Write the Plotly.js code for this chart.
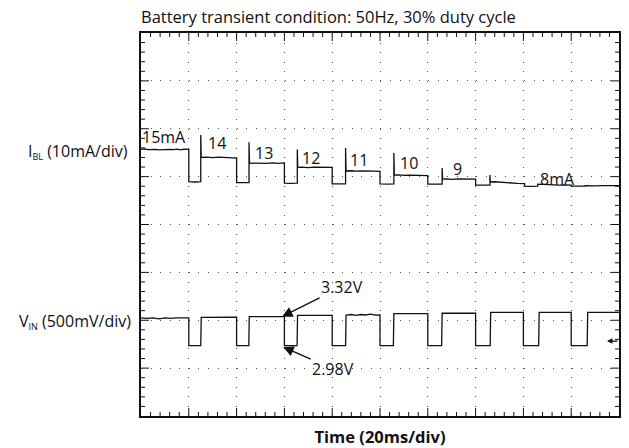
<!DOCTYPE html>
<html>
<head>
<meta charset="utf-8">
<script src="https://cdn.plot.ly/plotly-3.0.1.min.js"></script>
<style>html,body{margin:0;padding:0;background:#fff;}#chart{width:629px;height:448px;}</style>
</head>
<body>
<div id="chart"></div>
<script>
// ---- Data read from the scope capture ----
// Time in ms (20 ms/div, 10 divisions)
// Backlight current I_BL (mA), 10 mA/div
var tCurrent = [0, 1.5, 3, 4.5, 6, 7.5, 9, 10.5, 12, 13.5, 15, 16.5, 18, 20,
  20, 22.5, 25,
  25, 25.2, 27.5, 30, 32.5, 35, 37.5, 40,
  40, 42.5, 45.2,
  45.2, 45.4, 47.5, 50, 52.5, 55, 57.5, 60,
  60, 62.5, 65.4,
  65.4, 65.6, 67.5, 70, 72.5, 75, 77.5, 80,
  80, 82.5, 85.6,
  85.6, 85.8, 88, 90, 92.5, 95, 97.5, 100,
  100, 103, 105.8,
  105.8, 106, 108, 110, 112.5, 115, 117.5, 120,
  120, 123, 126,
  126, 126.2, 128, 130, 132.5, 135, 137.5, 140,
  140, 143, 146,
  146, 146.2, 148, 150, 152.5, 155, 157.5, 160.5,
  160.5, 163, 166,
  166, 168, 170, 172.5, 175, 177.5, 180,
  180, 183, 186,
  186, 188, 190, 192.5, 195, 197.5, 200];
var iCurrent = [15.0, 15.1, 14.95, 15.05, 15.0, 14.9, 14.95, 15.1, 15.0, 14.95, 15.05, 14.9, 15.05, 15.0,
  8.25, 8.2, 8.25,
  18.0, 13.35, 13.4, 13.3, 13.4, 13.3, 13.35, 13.2,
  8.05, 8.1, 8.05,
  16.5, 12.1, 12.15, 12.05, 12.1, 12.2, 12.1, 12.2,
  7.95, 7.9, 7.95,
  15.0, 11.25, 11.3, 11.2, 11.3, 11.25, 11.2, 11.25,
  7.8, 7.75, 7.8,
  15.3, 10.5, 10.55, 10.45, 10.5, 10.55, 10.45, 10.4,
  7.8, 7.75, 7.8,
  14.25, 9.65, 9.7, 9.6, 9.65, 9.6, 9.7, 9.55,
  7.75, 7.8, 7.75,
  11.1, 8.8, 8.85, 8.75, 8.85, 8.8, 8.75, 8.8,
  7.55, 7.6, 7.55,
  9.65, 8.2, 8.25, 8.15, 8.1, 8.0, 7.9, 7.85,
  7.35, 7.3, 7.35,
  7.75, 7.7, 7.6, 7.65, 7.55, 7.6, 7.55,
  7.35, 7.3, 7.35,
  7.45, 7.5, 7.4, 7.45, 7.4, 7.45, 7.45];

// Input voltage V_IN (V), 500 mV/div
var tVoltage = [0, 2.5, 5, 7.5, 10, 12.5, 15, 17.5, 20,
  20, 25,
  25.2, 30, 35, 40,
  40, 45.1,
  45.3, 50, 55, 60,
  60, 65.3,
  65.5, 70, 75, 80,
  80, 85.6,
  85.8, 88, 90, 92, 94, 96, 98, 100,
  100, 105.6,
  105.8, 110, 115, 120,
  120, 125.8,
  126, 130, 135, 140,
  140, 146.1,
  146.3, 150, 155, 160,
  160, 166.4,
  166.6, 170, 175, 180,
  180, 186.7,
  186.9, 190, 195, 200];
var vVoltage = [3.31, 3.305, 3.31, 3.30, 3.31, 3.305, 3.31, 3.31, 3.31,
  3.02, 3.02,
  3.316, 3.316, 3.318, 3.318,
  3.02, 3.02,
  3.322, 3.322, 3.322, 3.322,
  3.02, 3.02,
  3.335, 3.335, 3.335, 3.335,
  3.02, 3.02,
  3.34, 3.345, 3.335, 3.345, 3.34, 3.348, 3.338, 3.34,
  3.02, 3.02,
  3.354, 3.354, 3.354, 3.354,
  3.02, 3.02,
  3.358, 3.358, 3.358, 3.358,
  3.02, 3.02,
  3.368, 3.368, 3.368, 3.368,
  3.02, 3.02,
  3.368, 3.368, 3.368, 3.368,
  3.02, 3.02,
  3.368, 3.368, 3.368, 3.368];

// Step labels on the current trace: [time ms, current mA, text]
var stepLabelT = [9.8, 31.6, 51.3, 71.3, 91.4, 112.1, 132.6, 174.1];
var stepLabelI = [17.66, 16.28, 14.19, 13.15, 12.79, 12.23, 10.85, 8.82];
var stepLabelText = ["15mA", "14", "13", "12", "11", "10", "9", "8mA"];

// Voltage callouts
var calloutText = ["3.32V", "2.98V"];
var calloutT = [59.0, 59.5];
var calloutV = [3.322, 3.005];

// Screen scales
var timeRange = [0, 200];             // 10 div x 20 ms
var currentRange = [-40.68, 39.32];   // 8 div x 10 mA
var voltageRange = [2.285, 6.285];    // 8 div x 0.5 V
var SUBDIV = 5;                       // graticule sub-divisions per division

var FONT = "'Open Sans', 'Noto Sans', sans-serif";
var INK = '#111';

var traces = [
  {x: tCurrent, y: iCurrent, type: 'scatter', mode: 'lines', xaxis: 'x', yaxis: 'y',
   line: {color: INK, width: 1.3}, hoverinfo: 'skip', showlegend: false},
  {x: tVoltage, y: vVoltage, type: 'scatter', mode: 'lines', xaxis: 'x', yaxis: 'y2',
   line: {color: INK, width: 1.3}, hoverinfo: 'skip', showlegend: false}
];

var annotations = [];
for (var i = 0; i < stepLabelText.length; i++) {
  annotations.push({x: stepLabelT[i], y: stepLabelI[i], xref: 'x', yref: 'y',
    text: stepLabelText[i], showarrow: false, xanchor: 'center', yanchor: 'middle',
    font: {family: FONT, size: 16, color: INK}});
}
annotations.push({x: calloutT[0], y: calloutV[0], xref: 'x', yref: 'y2', text: calloutText[0],
  showarrow: true, ax: 60, ay: -30, arrowhead: 2, arrowsize: 1.5, arrowwidth: 1.4, arrowcolor: INK,
  font: {family: FONT, size: 16, color: INK}});
annotations.push({x: calloutT[1], y: calloutV[1], xref: 'x', yref: 'y2', text: calloutText[1],
  showarrow: true, ax: 50, ay: 22, arrowhead: 2, arrowsize: 1.5, arrowwidth: 1.4, arrowcolor: INK,
  font: {family: FONT, size: 16, color: INK}});
// trigger-level marker on right edge
annotations.push({x: 195, y: 3.068, xref: 'x', yref: 'y2', text: '',
  showarrow: true, ax: 12, ay: 0, arrowhead: 2, arrowsize: 0.9, arrowwidth: 1.2, arrowcolor: INK});
// channel labels
annotations.push({x: 0, y: 14.5, xref: 'paper', yref: 'y', xanchor: 'right', yanchor: 'middle', xshift: -11,
  text: "I<sub><span style='font-size:9px'>BL</span></sub> (10mA/div)", showarrow: false,
  font: {family: FONT, size: 16, color: INK}});
annotations.push({x: 0, y: 3.27, xref: 'paper', yref: 'y2', xanchor: 'right', yanchor: 'middle', xshift: -8,
  text: "V<sub><span style='font-size:9px'>IN</span></sub> (500mV/div)", showarrow: false,
  font: {family: FONT, size: 16, color: INK}});

// Graticule tick marks on all four borders (major at each division, minor at each sub-division)
var shapes = [];
var xDiv = 20, yDiv = 10;
var nx = (timeRange[1] - timeRange[0]) / xDiv * SUBDIV;
for (var k = 1; k < nx; k++) {
  var tx = timeRange[0] + k * xDiv / SUBDIV;
  var len = (k % SUBDIV === 0) ? 8 : 4;
  [0, 1].forEach(function (edge) {
    shapes.push({type: 'line', xref: 'x', yref: 'paper', ysizemode: 'pixel', yanchor: edge,
      x0: tx, x1: tx, y0: 0, y1: edge === 0 ? len : -len, line: {color: INK, width: 1}});
  });
}
var ny = (currentRange[1] - currentRange[0]) / yDiv * SUBDIV;
for (var m = 1; m < ny; m++) {
  var ty = currentRange[0] + m * yDiv / SUBDIV;
  var lenY = (m % SUBDIV === 0) ? 8 : 4;
  [0, 1].forEach(function (edge) {
    shapes.push({type: 'line', xref: 'paper', yref: 'y', xsizemode: 'pixel', xanchor: edge,
      x0: 0, x1: edge === 0 ? lenY : -lenY, y0: ty, y1: ty, line: {color: INK, width: 1}});
  });
}

var layout = {
  width: 629, height: 448,
  margin: {l: 141, r: 10, t: 33, b: 32, pad: 0},
  paper_bgcolor: '#fff', plot_bgcolor: '#fff',
  showlegend: false,
  title: {text: 'Battery transient condition: 50Hz, 30% duty cycle', x: 0, xref: 'paper', xanchor: 'left',
    y: 1 - 17 / 448, yref: 'container', yanchor: 'middle', font: {family: FONT, size: 16.5, color: INK}},
  xaxis: {
    range: timeRange, tick0: 0, dtick: xDiv, showticklabels: false, ticks: '',
    showline: true, mirror: true, linecolor: INK, linewidth: 2, zeroline: false, fixedrange: true,
    showgrid: true, gridcolor: '#555', gridwidth: 1, griddash: '1px,8.56px',
    title: {text: '<b>Time (20ms/div)</b>', standoff: 14, font: {family: FONT, size: 16.5, color: INK}}
  },
  yaxis: {
    range: currentRange, tick0: currentRange[0], dtick: yDiv, showticklabels: false, ticks: '',
    showline: true, mirror: true, linecolor: INK, linewidth: 2, zeroline: false, fixedrange: true,
    showgrid: true, gridcolor: '#555', gridwidth: 1, griddash: '1px,8.575px'
  },
  yaxis2: {overlaying: 'y', range: voltageRange, visible: false, fixedrange: true},
  shapes: shapes,
  annotations: annotations
};

Plotly.newPlot('chart', traces, layout, {displayModeBar: false, staticPlot: true});
</script>
</body>
</html>
